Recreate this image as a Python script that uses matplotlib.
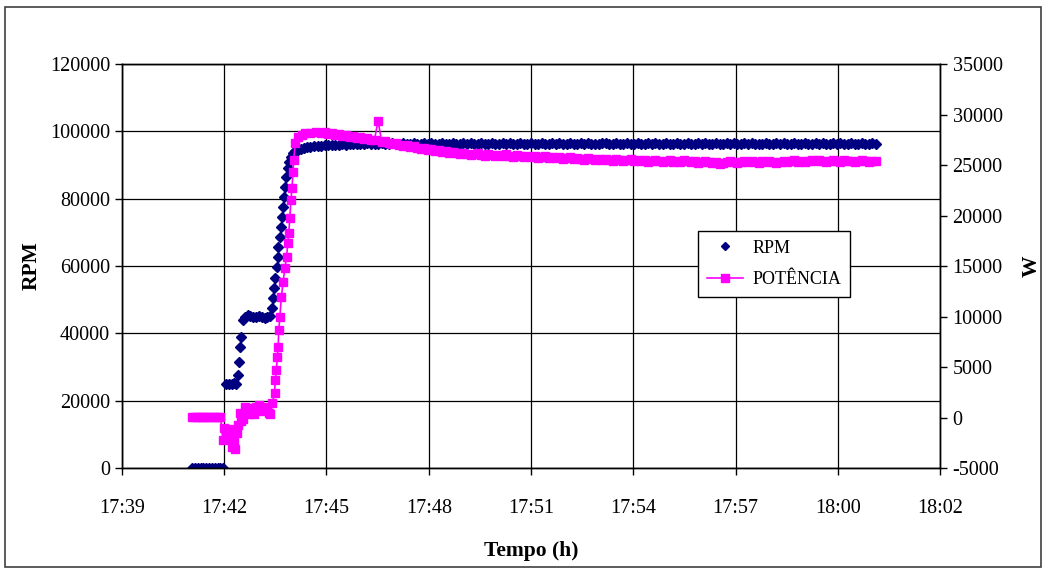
import matplotlib
matplotlib.use("Agg")
import matplotlib.pyplot as plt
from matplotlib.patches import Rectangle

plt.rcParams['font.family'] = ['Liberation Serif', 'DejaVu Serif']
plt.rcParams['axes.unicode_minus'] = False

# time in minutes after 17:39
rpm_t_start = [1.97, 2.05, 2.13, 2.21, 2.29, 2.37, 2.45, 2.53, 2.61, 2.69, 2.77, 2.85,
               2.92, 3.00, 3.08, 3.16, 3.22,
               3.27, 3.29, 3.32, 3.34, 3.39,
               3.45, 3.53, 3.61, 3.69, 3.77, 3.85, 3.93, 4.01, 4.09, 4.17,
               4.22, 4.25, 4.28, 4.31, 4.36, 4.38, 4.40, 4.44, 4.47, 4.50,
               4.53, 4.55, 4.58, 4.62, 4.66, 4.70, 4.75, 4.80, 4.87, 4.95,
               5.03, 5.11, 5.20, 5.30, 5.40, 5.50]
rpm_start = [0, 0, 0, 0, 0, 0, 0, 0, 0, 0, 0, 0,
             25000, 25000, 25000, 25300, 25000,
             27600, 31500, 36000, 39000, 44000,
             45000, 45500, 45200, 44800, 45000, 45300, 45000, 44700, 45000, 45200,
             47500, 50500, 53500, 56500, 59700, 62700, 65600, 68600, 71600, 74500,
             77500, 80500, 83500, 86400, 89000, 91000, 92500, 93600, 94200, 94600,
             94900, 95100, 95300, 95400, 95500, 95600]

pot_t_start = [1.97, 2.05, 2.13, 2.21, 2.29, 2.37, 2.45, 2.53, 2.61, 2.69, 2.77,
               2.84, 2.88, 2.93, 2.97, 3.02, 3.06, 3.10, 3.14, 3.19, 3.23,
               3.27, 3.32, 3.36, 3.40, 3.46, 3.52, 3.58, 3.65, 3.72, 3.78,
               3.85, 3.90, 3.96, 4.02, 4.07, 4.12, 4.17, 4.22, 4.29, 4.31,
               4.34, 4.37, 4.39, 4.41, 4.44, 4.48, 4.53, 4.58, 4.63, 4.66,
               4.69, 4.72, 4.75, 4.78, 4.81, 4.83, 4.87, 4.95, 5.05, 5.15,
               5.30, 5.45]
pot_start = [100, 100, 100, 100, 100, 100, 100, 100, 100, 100, 100,
             -2200, -1000, -1400, -1900, -1100, -2000, -2900, -2400, -3100, -1500,
             -700, 400, -300, -100, 1000, 600, 300, 900, 300, 1000,
             1200, 800, 600, 1000, 700, 400, 300, 1400, 2400, 3700,
             4700, 6000, 7000, 8700, 10000, 11900, 13400, 14800, 15900, 17300,
             18300, 19800, 21500, 22700, 24300, 25500, 27200, 27800, 28000, 28200,
             28200, 28300]

t_flat = [5.6, 5.7, 5.8, 5.9, 6.0, 6.1, 6.2, 6.3, 6.4, 6.5,
          6.6, 6.7, 6.8, 6.9, 7.0, 7.1, 7.2, 7.3, 7.4, 7.5,
          7.6, 7.7, 7.8, 7.9, 8.0, 8.1, 8.2, 8.3, 8.4, 8.5,
          8.6, 8.7, 8.8, 8.9, 9.0, 9.1, 9.2, 9.3, 9.4, 9.5,
          9.6, 9.7, 9.8, 9.9, 10.0, 10.1, 10.2, 10.3, 10.4, 10.5,
          10.6, 10.7, 10.8, 10.9, 11.0, 11.1, 11.2, 11.3, 11.4, 11.5,
          11.6, 11.7, 11.8, 11.9, 12.0, 12.1, 12.2, 12.3, 12.4, 12.5,
          12.6, 12.7, 12.8, 12.9, 13.0, 13.1, 13.2, 13.3, 13.4, 13.5,
          13.6, 13.7, 13.8, 13.9, 14.0, 14.1, 14.2, 14.3, 14.4, 14.5,
          14.6, 14.7, 14.8, 14.9, 15.0, 15.1, 15.2, 15.3, 15.4, 15.5,
          15.6, 15.7, 15.8, 15.9, 16.0, 16.1, 16.2, 16.3, 16.4, 16.5,
          16.6, 16.7, 16.8, 16.9, 17.0, 17.1, 17.2, 17.3, 17.4, 17.5,
          17.6, 17.7, 17.8, 17.9, 18.0, 18.1, 18.2, 18.3, 18.4, 18.5,
          18.6, 18.7, 18.8, 18.9, 19.0, 19.1, 19.2, 19.3, 19.4, 19.5,
          19.6, 19.7, 19.8, 19.9, 20.0, 20.1, 20.2, 20.3, 20.4, 20.5,
          20.6, 20.7, 20.8, 20.9, 21.0, 21.1, 21.2]
rpm_flat = [95700, 95800, 95800, 95900, 95900, 96000, 96100, 96000, 96100, 96200,
            96100, 96300, 96200, 96400, 96100, 96300, 96200, 96500, 96300, 96200,
            96400, 96100, 96300, 96500, 96200, 96300, 96400, 96100, 96300, 96500,
            96200, 96400, 96300, 96100, 96500, 96300, 96200, 96400, 96300, 96100,
            96400, 96300, 96500, 96200, 96300, 96400, 96100, 96300, 96500, 96200,
            96300, 96400, 96200, 96500, 96300, 96100, 96400, 96300, 96200, 96500,
            96300, 96200, 96400, 96100, 96300, 96500, 96200, 96400, 96300, 96100,
            96400, 96300, 96200, 96500, 96300, 96400, 96200, 96100, 96300, 96400,
            96500, 96200, 96300, 96400, 96100, 96300, 96500, 96300, 96200, 96400,
            96300, 96100, 96400, 96300, 96500, 96200, 96300, 96400, 96200, 96300,
            96500, 96300, 96100, 96400, 96200, 96300, 96500, 96300, 96400, 96200,
            96300, 96400, 96100, 96300, 96500, 96200, 96400, 96300, 96200, 96400,
            96300, 96500, 96200, 96300, 96100, 96400, 96300, 96200, 96500, 96300,
            96400, 96200, 96300, 96500, 96100, 96300, 96400, 96200, 96300, 96500,
            96200, 96400, 96300, 96100, 96400, 96300, 96500, 96200, 96300, 96400,
            96300, 96200, 96400, 96300, 96200, 96400, 96300]
pot_flat = [28200, 28300, 28100, 28200, 28000, 28100, 27900, 28000, 27800, 27900,
            27700, 27800, 27600, 27700, 27500, 27500, 29400, 27300, 27400, 27200,
            27100, 27200, 27000, 26900, 27000, 26800, 26900, 26700, 26600, 26700,
            26500, 26600, 26400, 26500, 26300, 26400, 26200, 26300, 26200, 26100,
            26200, 26100, 26000, 26100, 26200, 26000, 25900, 26100, 26000, 25900,
            26000, 25900, 26100, 25900, 25800, 26000, 25900, 25800, 25900, 25800,
            25900, 25700, 25800, 25900, 25700, 25800, 25700, 25800, 25600, 25700,
            25800, 25600, 25700, 25600, 25500, 25700, 25600, 25500, 25600, 25500,
            25600, 25500, 25400, 25600, 25500, 25400, 25500, 25600, 25400, 25500,
            25400, 25500, 25300, 25400, 25500, 25400, 25300, 25400, 25500, 25300,
            25400, 25300, 25500, 25400, 25300, 25400, 25200, 25300, 25400, 25300,
            25200, 25300, 25100, 25200, 25300, 25400, 25300, 25200, 25300, 25400,
            25300, 25400, 25300, 25200, 25400, 25300, 25400, 25300, 25200, 25300,
            25400, 25300, 25400, 25500, 25300, 25400, 25300, 25400, 25500, 25400,
            25500, 25400, 25300, 25400, 25500, 25400, 25300, 25500, 25400, 25400,
            25300, 25400, 25500, 25400, 25300, 25400, 25400]

x_labels = ['17:39', '17:42', '17:45', '17:48', '17:51', '17:54', '17:57', '18:00', '18:02']
rpm_ticks = [0, 20000, 40000, 60000, 80000, 100000, 120000]
pot_ticks = [-5000, 0, 5000, 10000, 15000, 20000, 25000, 30000, 35000]

rpm_t = rpm_t_start + t_flat
rpm = rpm_start + rpm_flat
pot_t = pot_t_start + t_flat
pot = pot_start + pot_flat

fig = plt.figure(figsize=(10.46, 5.70), dpi=100)
ax = fig.add_axes([0.1166, 0.1789, 0.7821, 0.7088])
ax2 = ax.twinx()

h1, = ax.plot(rpm_t, rpm, linestyle='none', marker='D', ms=5.2,
              color='#000080', mec='#000080', label='RPM')
h2, = ax2.plot(pot_t, pot, color='#FF00FF', lw=1.2, marker='s', ms=6.4,
               mec='#FF00FF', label='POTÊNCIA')

xt = [23 * i / 8 for i in range(9)]
ax.set_xlim(0, 23)
ax.set_xticks(xt)
ax.set_xticklabels(x_labels)
ax.set_ylim(0, 120000)
ax.set_yticks(rpm_ticks)
ax2.set_ylim(-5000, 35000)
ax2.set_yticks(pot_ticks)

ax.grid(True, color='black', lw=0.9)
for a in (ax, ax2):
    for s in a.spines.values():
        s.set_color('black')
        s.set_linewidth(1.0)
ax.tick_params(axis='both', direction='out', length=5, labelsize=14.5, width=1)
ax.tick_params(axis='x', pad=17)
ax2.tick_params(axis='y', direction='out', length=5, labelsize=14.5, width=1, pad=4)

ax.set_ylabel('RPM', fontsize=15.5, fontweight='bold')
ax.yaxis.set_label_coords(-0.098, 0.5)
ax2.set_ylabel('W', fontsize=15.5, fontweight='bold')
ax2.yaxis.set_label_coords(1.10, 0.5)
ax.set_xlabel('Tempo (h)', fontsize=15.5, fontweight='bold')
ax.xaxis.set_label_coords(0.5, -0.18)

leg = ax2.legend([h1, h2], ['RPM', 'POTÊNCIA'], loc='center',
                 bbox_to_anchor=(0.797, 0.505), fontsize=13, frameon=True,
                 fancybox=False, edgecolor='black', framealpha=1,
                 handlelength=2.0, handletextpad=0.5, borderpad=0.5,
                 borderaxespad=0, labelspacing=0.8, markerscale=0.85)
leg.get_frame().set_linewidth(1.0)

fig.patches.append(Rectangle((0.005, 0.006), 0.99, 0.982, transform=fig.transFigure,
                             fill=False, edgecolor='#404040', lw=1.2))

fig.savefig('out.png', dpi=100)
